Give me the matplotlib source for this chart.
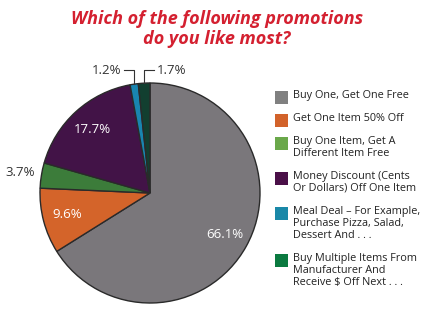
import numpy as np
import matplotlib
matplotlib.use("Agg")
import matplotlib.pyplot as plt
from matplotlib.patches import Rectangle

plt.rcParams["font.family"] = ["Open Sans", "DejaVu Sans"]

# Data
labels = [
    "Buy One, Get One Free",
    "Get One Item 50% Off",
    "Buy One Item, Get A\nDifferent Item Free",
    "Money Discount (Cents\nOr Dollars) Off One Item",
    "Meal Deal \u2013 For Example,\nPurchase Pizza, Salad,\nDessert And . . .",
    "Buy Multiple Items From\nManufacturer And\nReceive $ Off Next . . .",
]
values = [66.1, 9.6, 3.7, 17.7, 1.2, 1.7]
pie_colors = ["#7a777b", "#d4642a", "#3c7c3a", "#421347", "#1985b0", "#123f30"]
legend_colors = ["#808080", "#d2622a", "#6aa84a", "#4a1048", "#1a88a8", "#0b7a40"]

W, H = 436, 321
fig = plt.figure(figsize=(W / 100, H / 100), dpi=100)
fig.patch.set_facecolor("white")

fig.text(217 / W, 1 - 29 / H, "Which of the following promotions\ndo you like most?",
         ha="center", va="center", color="#d42030", fontsize=13,
         fontweight="bold", fontstyle="italic", linespacing=1.2)

ax = fig.add_axes([30 / W, 8 / H, 240 / W, 240 / H])
wedges, _ = ax.pie(values, colors=pie_colors, startangle=90, counterclock=False,
                   radius=1.1, wedgeprops=dict(edgecolor="#2a2a2a", linewidth=1.0))
ax.set_xlim(-1.2, 1.2)
ax.set_ylim(-1.2, 1.2)
ax.set_aspect("equal")
ax.axis("off")

# percentage labels
for w, v in zip(wedges, values):
    mid = np.deg2rad((w.theta1 + w.theta2) / 2)
    txt = f"{v:.1f}%"
    if v > 5:
        r = 0.86
        ax.text(r * np.cos(mid), r * np.sin(mid), txt, ha="center", va="center",
                color="white", fontsize=9.5)
    elif v > 3:
        r = 1.31
        ax.text(r * np.cos(mid), r * np.sin(mid), txt, ha="center", va="center",
                color="#333333", fontsize=9.5)

# leader labels for the two thin slices
small = [(4, -1, "right"), (5, 1, "left")]
for i, side, ha in small:
    w = wedges[i]
    mid = np.deg2rad((w.theta1 + w.theta2) / 2)
    x0, y0 = 1.1 * np.cos(mid), 1.1 * np.sin(mid)
    ytxt = 1.23
    xtxt = x0 + side * 0.1
    ax.plot([x0, x0, xtxt], [y0, ytxt, ytxt], color="#333333", lw=0.8, clip_on=False)
    ax.text(xtxt + side * 0.03, ytxt, f"{values[i]:.1f}%", ha=ha, va="center",
            color="#333333", fontsize=9.5)

# legend, drawn by hand so the swatch sits on the first line
y = 91
line_h = 12
for lab, c in zip(labels, legend_colors):
    n = lab.count("\n") + 1
    fig.add_artist(Rectangle((275 / W, 1 - (y + 13) / H), 13 / W, 13 / H,
                             transform=fig.transFigure, facecolor=c, edgecolor="none"))
    fig.text(293 / W, 1 - (y - 1) / H, lab, ha="left", va="top", fontsize=7.8,
             color="#222222", linespacing=1.1)
    y += n * line_h + 11

fig.savefig("out.png", dpi=100)
